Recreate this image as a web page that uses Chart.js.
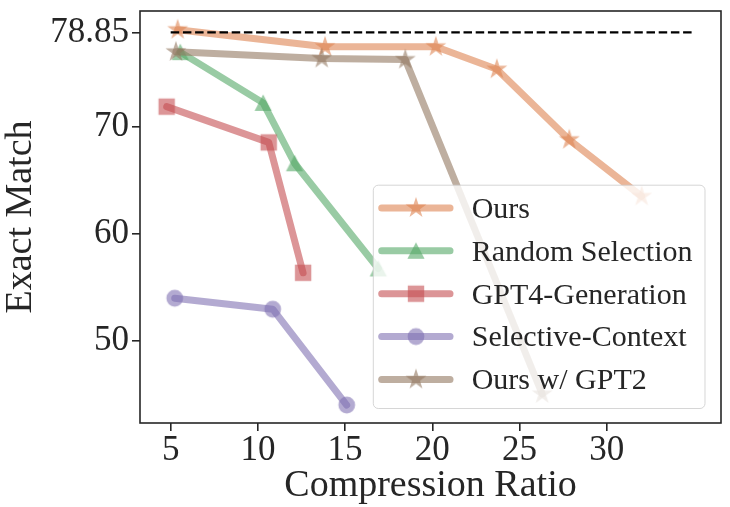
<!DOCTYPE html>
<html><head><meta charset="utf-8">
<script src="https://cdn.jsdelivr.net/npm/chart.js@4"></script>
<style>html,body{margin:0;padding:0;background:#fff;} canvas{display:block;}</style>
</head><body>
<canvas id="c" width="730" height="507"></canvas>
<script>
// ---- data ----
const seriesNames = ['Ours', 'Random Selection', 'GPT4-Generation', 'Selective-Context', 'Ours w/ GPT2'];
const oursX = [5.4, 13.85, 20.2, 23.7, 27.85, 32.0];
const oursY = [79.1, 77.5, 77.5, 75.4, 68.8, 63.5];
const randomX = [5.55, 10.3, 12.1, 16.9];
const randomY = [77.0, 72.25, 66.6, 56.75];
const gpt4X = [4.77, 10.62, 12.59];
const gpt4Y = [71.9, 68.55, 56.35];
const selectiveX = [5.23, 10.85, 15.09];
const selectiveY = [53.97, 52.94, 43.97];
const gpt2X = [5.3, 13.66, 18.45, 26.3];
const gpt2Y = [77.03, 76.4, 76.3, 45.0];
const fullContextX = [5, 35.06];
const fullContextY = [78.85, 78.85];
const xTicks = [5, 10, 15, 20, 25, 30];
const yTicks = [50, 60, 70, 78.85];

// ---- styles ----
const ALPHA = 0.6;
const rgba = (hex, a) => {
  const n = parseInt(hex.slice(1), 16);
  return `rgba(${(n >> 16) & 255},${(n >> 8) & 255},${n & 255},${a})`;
};
const baseColors = ['#DD8452', '#55A868', '#C44E52', '#8172B3', '#937860'];
const shapes = ['star', 'triangle', 'square', 'circle', 'star'];

function makeMarker(shape, color) {
  const s = 28, c = s / 2;
  const cv = document.createElement('canvas');
  cv.width = s; cv.height = s;
  const g = cv.getContext('2d');
  g.fillStyle = color;
  g.beginPath();
  if (shape === 'star') {
    const R = 11, r = R * 0.381966;
    for (let k = 0; k < 10; k++) {
      const ang = -Math.PI / 2 + k * Math.PI / 5;
      const rr = k % 2 === 0 ? R : r;
      const px = c + rr * Math.cos(ang), py = c + rr * Math.sin(ang);
      if (k === 0) g.moveTo(px, py); else g.lineTo(px, py);
    }
    g.closePath();
  } else if (shape === 'triangle') {
    g.moveTo(c, c - 8.5); g.lineTo(c - 8.6, c + 8); g.lineTo(c + 8.6, c + 8); g.closePath();
  } else if (shape === 'square') {
    g.rect(c - 8.2, c - 8.2, 16.4, 16.4);
  } else {
    g.arc(c, c, 8.4, 0, Math.PI * 2);
  }
  g.fill();
  return cv;
}

const xs = [oursX, randomX, gpt4X, selectiveX, gpt2X];
const ys = [oursY, randomY, gpt4Y, selectiveY, gpt2Y];
const markers = shapes.map((sh, i) => makeMarker(sh, rgba(baseColors[i], ALPHA)));

const datasets = seriesNames.map((name, i) => ({
  label: name,
  data: xs[i].map((x, j) => ({x, y: ys[i][j]})),
  showLine: true,
  borderColor: rgba(baseColors[i], ALPHA),
  borderWidth: 7,
  borderCapStyle: 'round',
  borderJoinStyle: 'round',
  pointStyle: markers[i],
  pointRadius: 10,
  order: 6 - i
}));
datasets.push({
  label: 'full',
  data: fullContextX.map((x, j) => ({x, y: fullContextY[j]})),
  showLine: true,
  borderColor: '#000',
  borderWidth: 2.2,
  borderDash: [8.5, 3.7],
  pointRadius: 0,
  order: 0
});

const INK = '#262626';
Chart.defaults.font.family = '"Liberation Serif", "Times New Roman", serif';
Chart.defaults.color = INK;

const legendPlugin = {
  id: 'customLegend',
  afterDatasetsDraw(chart) {
    const ctx = chart.ctx, a = chart.chartArea;
    const x1 = a.right - 16, y1 = a.bottom - 14.5;
    const x0 = x1 - 331.7, y0 = y1 - 223.3;
    ctx.save();
    ctx.beginPath();
    ctx.roundRect(x0, y0, x1 - x0, y1 - y0, 5);
    ctx.fillStyle = 'rgba(255,255,255,0.8)';
    ctx.fill();
    ctx.strokeStyle = 'rgba(204,204,204,0.8)';
    ctx.lineWidth = 1;
    ctx.stroke();
    seriesNames.forEach((name, i) => {
      const y = y0 + 22.7 + i * 42.9;
      ctx.beginPath();
      ctx.moveTo(x0 + 8.4, y); ctx.lineTo(x0 + 76.7, y);
      ctx.strokeStyle = rgba(baseColors[i], ALPHA);
      ctx.lineWidth = 7; ctx.lineCap = 'round';
      ctx.stroke();
      const m = markers[i];
      ctx.drawImage(m, x0 + 42.7 - m.width / 2, y - m.height / 2);
      ctx.fillStyle = INK;
      ctx.font = '30px "Liberation Serif"';
      ctx.textBaseline = 'middle';
      ctx.textAlign = 'left';
      ctx.fillText(name, x0 + 98.4, y + 2);
    });
    ctx.restore();
  },
  afterDraw(chart) {
    const ctx = chart.ctx, a = chart.chartArea;
    ctx.save();
    ctx.strokeStyle = INK; ctx.lineWidth = 1.6;
    ctx.strokeRect(a.left, a.top, a.right - a.left, a.bottom - a.top);
    ctx.restore();
  }
};

const zeroPad = s => { s.paddingTop = 0; s.paddingBottom = 0; s.paddingLeft = 0; s.paddingRight = 0; };

new Chart(document.getElementById('c'), {
  type: 'scatter',
  data: {datasets},
  plugins: [legendPlugin],
  options: {
    responsive: false,
    animation: false,
    devicePixelRatio: 1,
    events: [],
    layout: {padding: {left: 0, top: 11, right: 9, bottom: 0}, autoPadding: false},
    plugins: {legend: {display: false}, tooltip: {enabled: false}},
    scales: {
      x: {
        type: 'linear', min: 3.24, max: 36.55,
        afterBuildTicks: s => { s.ticks = xTicks.map(v => ({value: v})); },
        afterFit: s => { s.height = 84; zeroPad(s); },
        ticks: {autoSkip: false, maxRotation: 0, padding: 2, color: INK,
                font: {size: 35, lineHeight: 1}, callback: v => String(v)},
        grid: {drawOnChartArea: false, drawTicks: true, tickLength: 8, color: INK, lineWidth: 1.6},
        border: {display: false},
        title: {display: true, text: 'Compression Ratio', color: INK,
                font: {size: 38, lineHeight: 1}, padding: {top: 0, bottom: 2}}
      },
      y: {
        type: 'linear', min: 42.29, max: 80.85,
        afterBuildTicks: s => { s.ticks = yTicks.map(v => ({value: v})); },
        afterFit: s => { s.width = 140; zeroPad(s); },
        ticks: {autoSkip: false, padding: 3, color: INK,
                font: {size: 35, lineHeight: 1}, callback: v => String(v)},
        grid: {drawOnChartArea: false, drawTicks: true, tickLength: 8, color: INK, lineWidth: 1.6},
        border: {display: false},
        title: {display: true, text: 'Exact Match', color: INK,
                font: {size: 38, lineHeight: 1}, padding: {top: 2, bottom: 0}}
      }
    }
  }
});
</script>
</body></html>
